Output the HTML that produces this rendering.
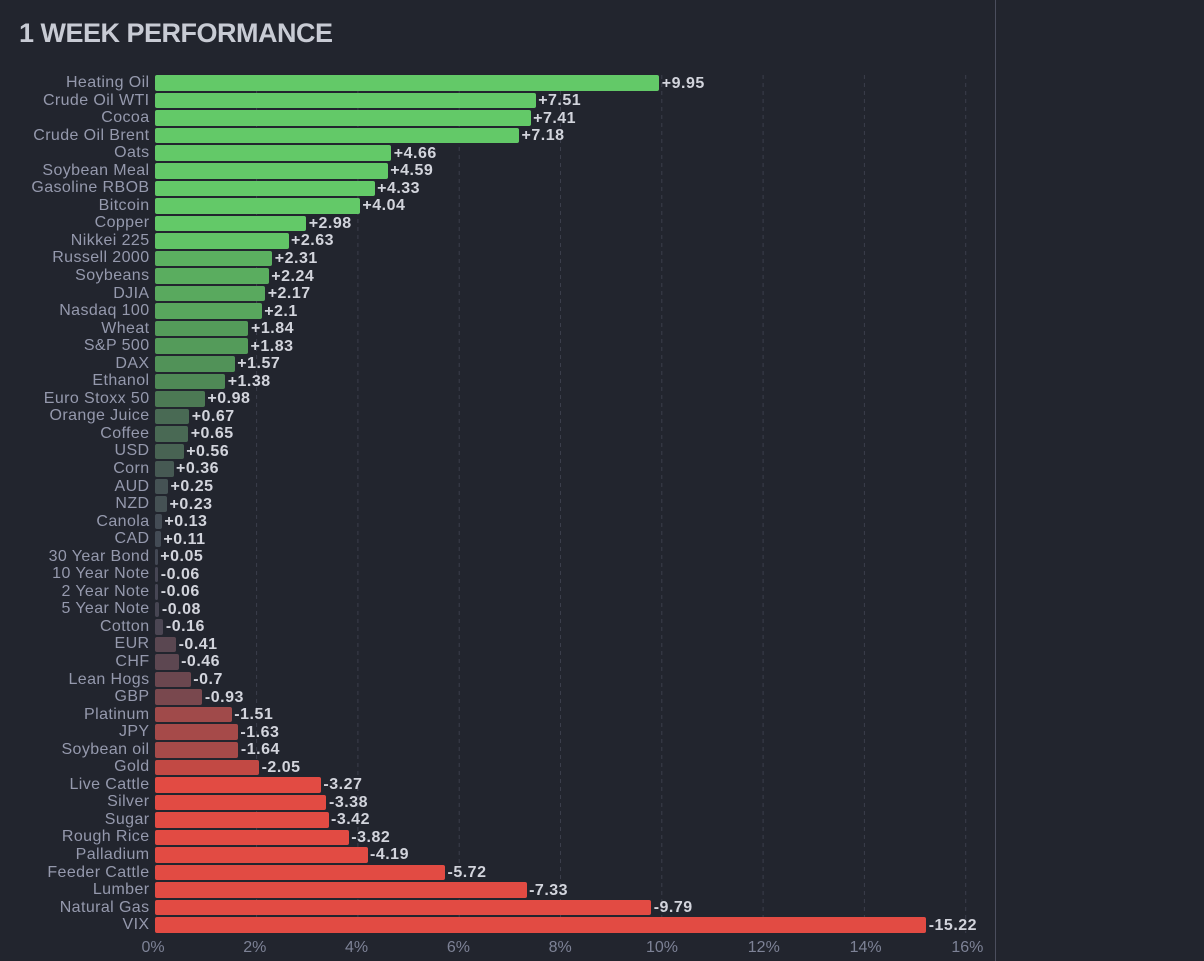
<!DOCTYPE html>
<html><head><meta charset="utf-8"><style>
html,body{margin:0;padding:0;background:#22252e;}
body{width:1204px;height:961px;position:relative;overflow:hidden;font-family:"Liberation Sans",Arial,sans-serif;}
.t{position:absolute;left:19px;top:17.6px;font-size:27px;line-height:30px;font-weight:bold;color:#c8cbd4;letter-spacing:-0.5px;white-space:nowrap;}
.r{position:absolute;left:0;width:1000px;height:15.5px;}
.l{position:absolute;left:0;width:149.5px;text-align:right;top:-1.3px;line-height:17.54px;font-size:16px;letter-spacing:0.4px;color:#9599ad;white-space:nowrap;}
.b{position:absolute;left:155.3px;top:0;height:15.5px;border-radius:2px;}
.v{position:absolute;top:-0.8px;line-height:17.54px;font-size:16px;font-weight:bold;letter-spacing:0.5px;color:#d2d4dc;white-space:nowrap;}
.ax{position:absolute;top:938.5px;font-size:16px;line-height:18px;color:#7d8296;width:60px;text-align:center;white-space:nowrap;}
.sep{position:absolute;left:995px;top:0;width:1px;height:961px;background:#4b4e5d;}
svg{position:absolute;left:0;top:0;}
</style></head><body>
<svg width="1204" height="961">
<g stroke="#3b3e4b" stroke-width="1" stroke-dasharray="4,4">
<line x1="256.6" y1="75" x2="256.6" y2="933"/>
<line x1="357.9" y1="75" x2="357.9" y2="933"/>
<line x1="459.2" y1="75" x2="459.2" y2="933"/>
<line x1="560.5" y1="75" x2="560.5" y2="933"/>
<line x1="661.8" y1="75" x2="661.8" y2="933"/>
<line x1="763.1" y1="75" x2="763.1" y2="933"/>
<line x1="864.4" y1="75" x2="864.4" y2="933"/>
<line x1="965.7" y1="75" x2="965.7" y2="933"/>
</g>
</svg>
<div class="sep"></div>
<div class="t">1 WEEK PERFORMANCE</div>

<div class="r" style="top:75.3px"><div class="l">Heating Oil</div><div class="b" style="width:503.97px;background:rgb(99,201,104)"></div><div class="v" style="left:661.8px">+9.95</div></div>
<div class="r" style="top:92.85px"><div class="l">Crude Oil WTI</div><div class="b" style="width:380.38px;background:rgb(99,201,104)"></div><div class="v" style="left:538.2px">+7.51</div></div>
<div class="r" style="top:110.39px"><div class="l">Cocoa</div><div class="b" style="width:375.32px;background:rgb(99,201,104)"></div><div class="v" style="left:533.1px">+7.41</div></div>
<div class="r" style="top:127.94px"><div class="l">Crude Oil Brent</div><div class="b" style="width:363.67px;background:rgb(99,201,104)"></div><div class="v" style="left:521.5px">+7.18</div></div>
<div class="r" style="top:145.48px"><div class="l">Oats</div><div class="b" style="width:236.03px;background:rgb(99,201,104)"></div><div class="v" style="left:393.8px">+4.66</div></div>
<div class="r" style="top:163.03px"><div class="l">Soybean Meal</div><div class="b" style="width:232.48px;background:rgb(99,201,104)"></div><div class="v" style="left:390.3px">+4.59</div></div>
<div class="r" style="top:180.57px"><div class="l">Gasoline RBOB</div><div class="b" style="width:219.31px;background:rgb(99,201,104)"></div><div class="v" style="left:377.1px">+4.33</div></div>
<div class="r" style="top:198.12px"><div class="l">Bitcoin</div><div class="b" style="width:204.63px;background:rgb(99,201,104)"></div><div class="v" style="left:362.4px">+4.04</div></div>
<div class="r" style="top:215.66px"><div class="l">Copper</div><div class="b" style="width:150.94px;background:rgb(99,201,104)"></div><div class="v" style="left:308.7px">+2.98</div></div>
<div class="r" style="top:233.21px"><div class="l">Nikkei 225</div><div class="b" style="width:133.21px;background:rgb(97,196,102)"></div><div class="v" style="left:291px">+2.63</div></div>
<div class="r" style="top:250.75px"><div class="l">Russell 2000</div><div class="b" style="width:117px;background:rgb(91,176,96)"></div><div class="v" style="left:274.8px">+2.31</div></div>
<div class="r" style="top:268.3px"><div class="l">Soybeans</div><div class="b" style="width:113.46px;background:rgb(90,173,95)"></div><div class="v" style="left:271.3px">+2.24</div></div>
<div class="r" style="top:285.84px"><div class="l">DJIA</div><div class="b" style="width:109.91px;background:rgb(89,169,94)"></div><div class="v" style="left:267.7px">+2.17</div></div>
<div class="r" style="top:303.39px"><div class="l">Nasdaq 100</div><div class="b" style="width:106.37px;background:rgb(88,166,93)"></div><div class="v" style="left:264.2px">+2.1</div></div>
<div class="r" style="top:320.93px"><div class="l">Wheat</div><div class="b" style="width:93.2px;background:rgb(84,155,90)"></div><div class="v" style="left:251px">+1.84</div></div>
<div class="r" style="top:338.48px"><div class="l">S&amp;P 500</div><div class="b" style="width:92.69px;background:rgb(84,155,90)"></div><div class="v" style="left:250.5px">+1.83</div></div>
<div class="r" style="top:356.02px"><div class="l">DAX</div><div class="b" style="width:79.52px;background:rgb(81,146,88)"></div><div class="v" style="left:237.3px">+1.57</div></div>
<div class="r" style="top:373.57px"><div class="l">Ethanol</div><div class="b" style="width:69.9px;background:rgb(79,137,86)"></div><div class="v" style="left:227.7px">+1.38</div></div>
<div class="r" style="top:391.11px"><div class="l">Euro Stoxx 50</div><div class="b" style="width:49.64px;background:rgb(76,121,84)"></div><div class="v" style="left:207.4px">+0.98</div></div>
<div class="r" style="top:408.66px"><div class="l">Orange Juice</div><div class="b" style="width:33.94px;background:rgb(73,106,84)"></div><div class="v" style="left:191.7px">+0.67</div></div>
<div class="r" style="top:426.2px"><div class="l">Coffee</div><div class="b" style="width:32.92px;background:rgb(73,105,84)"></div><div class="v" style="left:190.7px">+0.65</div></div>
<div class="r" style="top:443.75px"><div class="l">USD</div><div class="b" style="width:28.36px;background:rgb(72,99,83)"></div><div class="v" style="left:186.2px">+0.56</div></div>
<div class="r" style="top:461.29px"><div class="l">Corn</div><div class="b" style="width:18.23px;background:rgb(70,89,83)"></div><div class="v" style="left:176px">+0.36</div></div>
<div class="r" style="top:478.84px"><div class="l">AUD</div><div class="b" style="width:12.66px;background:rgb(69,82,84)"></div><div class="v" style="left:170.5px">+0.25</div></div>
<div class="r" style="top:496.38px"><div class="l">NZD</div><div class="b" style="width:11.65px;background:rgb(69,81,84)"></div><div class="v" style="left:169.5px">+0.23</div></div>
<div class="r" style="top:513.93px"><div class="l">Canola</div><div class="b" style="width:6.58px;background:rgb(68,76,85)"></div><div class="v" style="left:164.4px">+0.13</div></div>
<div class="r" style="top:531.47px"><div class="l">CAD</div><div class="b" style="width:5.57px;background:rgb(67,75,85)"></div><div class="v" style="left:163.4px">+0.11</div></div>
<div class="r" style="top:549.02px"><div class="l">30 Year Bond</div><div class="b" style="width:2.53px;background:rgb(67,72,84)"></div><div class="v" style="left:160.3px">+0.05</div></div>
<div class="r" style="top:566.56px"><div class="l">10 Year Note</div><div class="b" style="width:3.04px;background:rgb(70,70,84)"></div><div class="v" style="left:160.8px">-0.06</div></div>
<div class="r" style="top:584.11px"><div class="l">2 Year Note</div><div class="b" style="width:3.04px;background:rgb(70,70,84)"></div><div class="v" style="left:160.8px">-0.06</div></div>
<div class="r" style="top:601.65px"><div class="l">5 Year Note</div><div class="b" style="width:4.05px;background:rgb(71,70,83)"></div><div class="v" style="left:161.9px">-0.08</div></div>
<div class="r" style="top:619.2px"><div class="l">Cotton</div><div class="b" style="width:8.1px;background:rgb(75,70,83)"></div><div class="v" style="left:165.9px">-0.16</div></div>
<div class="r" style="top:636.74px"><div class="l">EUR</div><div class="b" style="width:20.77px;background:rgb(90,71,81)"></div><div class="v" style="left:178.6px">-0.41</div></div>
<div class="r" style="top:654.29px"><div class="l">CHF</div><div class="b" style="width:23.3px;background:rgb(93,71,81)"></div><div class="v" style="left:181.1px">-0.46</div></div>
<div class="r" style="top:671.83px"><div class="l">Lean Hogs</div><div class="b" style="width:35.46px;background:rgb(107,71,79)"></div><div class="v" style="left:193.3px">-0.7</div></div>
<div class="r" style="top:689.38px"><div class="l">GBP</div><div class="b" style="width:47.1px;background:rgb(121,72,78)"></div><div class="v" style="left:204.9px">-0.93</div></div>
<div class="r" style="top:706.92px"><div class="l">Platinum</div><div class="b" style="width:76.48px;background:rgb(160,74,74)"></div><div class="v" style="left:234.3px">-1.51</div></div>
<div class="r" style="top:724.47px"><div class="l">JPY</div><div class="b" style="width:82.56px;background:rgb(166,74,73)"></div><div class="v" style="left:240.4px">-1.63</div></div>
<div class="r" style="top:742.01px"><div class="l">Soybean oil</div><div class="b" style="width:83.07px;background:rgb(166,74,73)"></div><div class="v" style="left:240.9px">-1.64</div></div>
<div class="r" style="top:759.56px"><div class="l">Gold</div><div class="b" style="width:103.83px;background:rgb(194,73,68)"></div><div class="v" style="left:261.6px">-2.05</div></div>
<div class="r" style="top:777.1px"><div class="l">Live Cattle</div><div class="b" style="width:165.63px;background:rgb(226,75,67)"></div><div class="v" style="left:323.4px">-3.27</div></div>
<div class="r" style="top:794.65px"><div class="l">Silver</div><div class="b" style="width:171.2px;background:rgb(226,75,67)"></div><div class="v" style="left:329px">-3.38</div></div>
<div class="r" style="top:812.19px"><div class="l">Sugar</div><div class="b" style="width:173.22px;background:rgb(226,75,67)"></div><div class="v" style="left:331px">-3.42</div></div>
<div class="r" style="top:829.74px"><div class="l">Rough Rice</div><div class="b" style="width:193.48px;background:rgb(226,75,67)"></div><div class="v" style="left:351.3px">-3.82</div></div>
<div class="r" style="top:847.28px"><div class="l">Palladium</div><div class="b" style="width:212.22px;background:rgb(226,75,67)"></div><div class="v" style="left:370px">-4.19</div></div>
<div class="r" style="top:864.83px"><div class="l">Feeder Cattle</div><div class="b" style="width:289.72px;background:rgb(226,75,67)"></div><div class="v" style="left:447.5px">-5.72</div></div>
<div class="r" style="top:882.37px"><div class="l">Lumber</div><div class="b" style="width:371.26px;background:rgb(226,75,67)"></div><div class="v" style="left:529.1px">-7.33</div></div>
<div class="r" style="top:899.92px"><div class="l">Natural Gas</div><div class="b" style="width:495.86px;background:rgb(226,75,67)"></div><div class="v" style="left:653.7px">-9.79</div></div>
<div class="r" style="top:917.46px"><div class="l">VIX</div><div class="b" style="width:770.89px;background:rgb(226,75,67)"></div><div class="v" style="left:928.7px">-15.22</div></div>

<div class="ax" style="left:123px">0%</div>
<div class="ax" style="left:224.8px">2%</div>
<div class="ax" style="left:326.6px">4%</div>
<div class="ax" style="left:428.4px">6%</div>
<div class="ax" style="left:530.2px">8%</div>
<div class="ax" style="left:632px">10%</div>
<div class="ax" style="left:733.8px">12%</div>
<div class="ax" style="left:835.6px">14%</div>
<div class="ax" style="left:937.4px">16%</div>
</body></html>
